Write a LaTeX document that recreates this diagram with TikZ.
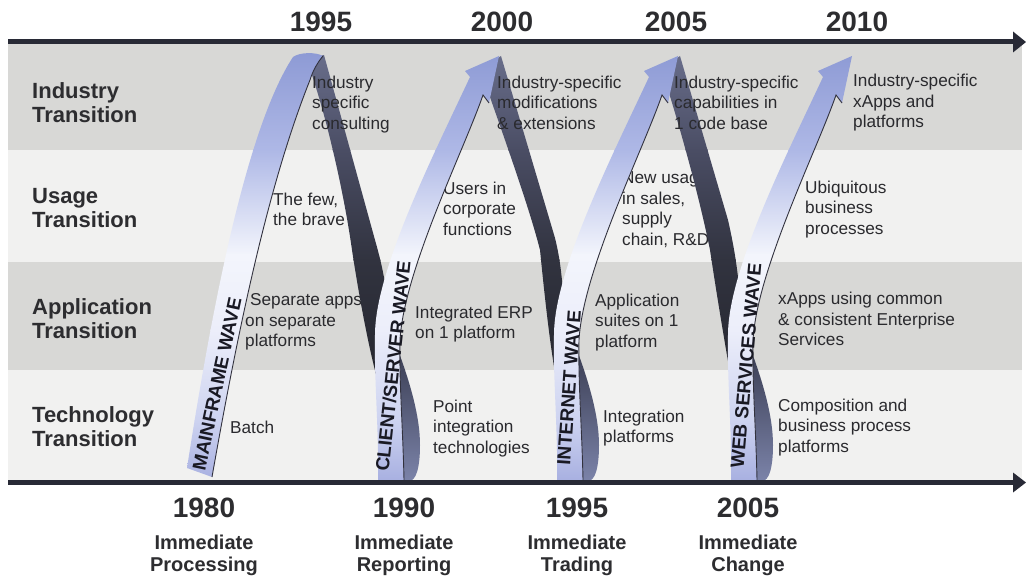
\documentclass[tikz,border=0pt]{standalone}
\usepackage{fontspec}
\setmainfont{Liberation Sans}
\definecolor{bandA}{RGB}{216,216,214}
\definecolor{bandB}{RGB}{241,241,240}
\definecolor{labcol}{RGB}{45,45,48}
\definecolor{desccol}{RGB}{42,42,46}
\definecolor{axiscol}{RGB}{40,42,54}
\definecolor{rA}{RGB}{140,153,212}
\definecolor{rB}{RGB}{174,184,230}
\definecolor{rC}{RGB}{243,245,252}
\definecolor{rD}{RGB}{236,238,250}
\definecolor{rE}{RGB}{205,211,240}
\definecolor{rF}{RGB}{166,174,224}
\definecolor{dA}{RGB}{106,111,140}
\definecolor{dB}{RGB}{74,77,100}
\definecolor{dC}{RGB}{49,51,63}
\definecolor{dD}{RGB}{36,37,45}
\definecolor{lobeA}{RGB}{58,61,82}
\definecolor{lobeB}{RGB}{123,131,169}
\definecolor{wavetxt}{RGB}{25,25,35}
\definecolor{edgecol}{RGB}{50,50,62}
\newcommand\lightshade[2]{%
 \shade[top color=rA, bottom color=rB] (#1,48) rectangle (#2,150.5);
 \shade[top color=rB, bottom color=rC] (#1,150) rectangle (#2,255.5);
 \shade[top color=rC, bottom color=rD] (#1,255) rectangle (#2,330.5);
 \shade[top color=rD, bottom color=rE] (#1,330) rectangle (#2,420.5);
 \shade[top color=rE, bottom color=rF] (#1,420) rectangle (#2,484);}
\newcommand\darkshade[2]{%
 \shade[top color=dA, bottom color=dB] (#1,50) rectangle (#2,150.5);
 \shade[top color=dB, bottom color=dC] (#1,150) rectangle (#2,260.5);
 \shade[top color=dC, bottom color=dD] (#1,260) rectangle (#2,395);}
\begin{document}
\begin{tikzpicture}[x=1pt,y=-1pt,
 rowlab/.style={font=\fontsize{22}{24}\selectfont\bfseries, text=labcol, align=left, anchor=north west, inner sep=0pt},
 yearlab/.style={font=\fontsize{28}{30}\selectfont\bfseries, text=labcol, inner sep=0pt},
 sublab/.style={font=\fontsize{20}{22}\selectfont\bfseries, text=labcol, align=center, anchor=north, inner sep=0pt},
 desc/.style={font=\fontsize{17.2}{20.5}\selectfont, text=desccol, align=left, anchor=north west, inner sep=0pt},
 lightrib/.style={insert path={(#1-26,480) .. controls (#1-25,430) and (#1-30,380) .. (#1-29,335) .. controls (#1-29,270) and (#1+31,152) .. (#1+66,77) -- (#1+61,71) -- (#1+95,56) -- (#1+85,103) -- (#1+79,95) .. controls (#1+60,150) and (#1+0,270) .. (#1-4,340) .. controls (#1-5,380) and (#1-1,430) .. (#1+0,480) -- cycle}},
 lobe/.style={insert path={(#1-6,350) .. controls (#1+5,380) and (#1+16,415) .. (#1+16,445) .. controls (#1+16,468) and (#1+12,481) .. (#1+5,481) -- (#1-3,481) -- cycle}},
 ribedge/.style={insert path={(#1+85,103) -- (#1+79,95) .. controls (#1+60,150) and (#1+0,270) .. (#1-4,340) .. controls (#1-5,380) and (#1-1,430) .. (#1+0,480)}},
 wavelab/.style={font=\fontsize{19}{19}\selectfont\bfseries, text=wavetxt, inner sep=0pt},
 edgeline/.style={draw=edgecol, line width=0.9pt},
]
\useasboundingbox (0,0) rectangle (1026,577);
\fill[white] (0,0) rectangle (1026,577);
% bands
\fill[bandA] (8,44) rectangle (1022,150);
\fill[bandB] (8,150) rectangle (1022,262);
\fill[bandA] (8,262) rectangle (1022,370);
\fill[bandB] (8,370) rectangle (1022,480);
% descriptions behind ribbons
\node[desc] (us1) at (273,192.5) {The few,\\the brave};
\node[desc] (us2) at (443,181.5) {Users in\\corporate\\functions};
\node[desc] (us3) at (622,171.5) {New usage\\in sales,\\supply\\chain, R\&D};
\node[desc] (us4) at (805,180.5) {Ubiquitous\\business\\processes};
\node[desc] (ap1) at (245,293.5) {\hspace*{5pt}Separate apps\\on separate\\platforms};
\node[desc] (ap2) at (415,305.5) {Integrated ERP\\on 1 platform};
\node[desc] (ap3) at (595,293.5) {Application\\suites on 1\\platform};
\node[desc] (ap4) at (778,292) {xApps using common\\\& consistent Enterprise\\Services};
\node[desc] (te1) at (230,420.5) {Batch};
\node[desc] (te2) at (433,399.5) {Point\\integration\\technologies};
\node[desc] (te3) at (603,409.5) {Integration\\platforms};
\node[desc] (te4) at (778,398.5) {Composition and\\business process\\platforms};
% dark descending ribbons
\begin{scope}
\clip (305,60) -- (324,55) -- (375,240) .. controls (385,275) and (389,300) .. (389,340) -- (389,392) -- (381,392) -- (377,378) .. controls (368,345) and (358,290) .. (352,250) .. controls (345,200) and (330,130) .. (312,75) -- cycle;
\darkshade{295}{400}
\end{scope}
\begin{scope}
\clip (492,62) -- (501,56) -- (555,238) .. controls (561,262) and (564,290) .. (564,330) -- (564,392) -- (559,392) -- (556,378) .. controls (550,345) and (545,300) .. (540,250) .. controls (530,210) and (505,140) .. (484,80) -- cycle;
\darkshade{475}{575}
\end{scope}
\begin{scope}
\clip (671,62) -- (680,56) -- (728,220) .. controls (736,255) and (740,285) .. (741,320) -- (741,392) -- (735,392) -- (731,378) .. controls (725,345) and (716,290) .. (710,250) .. controls (704,220) and (690,160) .. (665,80) -- cycle;
\darkshade{655}{750}
\end{scope}
% lobes (back of the twist)
\shade[lobe=404, top color=lobeA, bottom color=lobeB];
\shade[lobe=583, top color=lobeA, bottom color=lobeB];
\shade[lobe=757, top color=lobeA, bottom color=lobeB];
% wave 1 (mainframe)
\begin{scope}
\clip (187,468) .. controls (210,320) and (245,130) .. (293,57) .. controls (300,52) and (316,52) .. (323,56) .. controls (318,62) and (313,70) .. (310,80) .. controls (268,185) and (238,330) .. (212,477) -- cycle;
\lightshade{180}{330}
\end{scope}
\draw[edgeline] (323,56) .. controls (318,62) and (313,70) .. (310,80) .. controls (268,185) and (238,330) .. (212,477);
\node[wavelab, rotate=78] (w1) at (217,384) {MAINFRAME WAVE};
% waves 2-4
\begin{scope}
\clip[lightrib=404];
\lightshade{370}{505}
\end{scope}
\draw[edgeline, ribedge=404];
\node[wavelab, rotate=84] (w2) at (393,366) {CLIENT/SERVER WAVE};
\begin{scope}
\clip[lightrib=583];
\lightshade{550}{685}
\end{scope}
\draw[edgeline, ribedge=583];
\node[wavelab, rotate=86] (w3) at (569,388) {INTERNET WAVE};
\begin{scope}
\clip[lightrib=757];
\lightshade{725}{860}
\end{scope}
\draw[edgeline, ribedge=757];
\node[wavelab, rotate=85] (w4) at (746,366) {WEB SERVICES WAVE};
% industry row texts
\node[desc] (ind1) at (312,75.5) {Industry\\specific\\consulting};
\node[desc] (ind2) at (497,75.5) {Industry-specific\\modifications\\\& extensions};
\node[desc] (ind3) at (674,75.5) {Industry-specific\\capabilities in\\1 code base};
\node[desc] (ind4) at (853,74) {Industry-specific\\xApps and\\platforms};
% axes
\coordinate (tl) at (8,42);
\coordinate (tr) at (1016,42);
\coordinate (bl) at (8,482.5);
\coordinate (br) at (1016,482.5);
\draw[axiscol, line width=5pt] (tl) -- (tr);
\fill[axiscol] (1013,31.5) -- (1026,42) -- (1013,52.5) -- cycle;
\draw[axiscol, line width=5pt] (bl) -- (br);
\fill[axiscol] (1013,472.5) -- (1026,482.5) -- (1013,492.5) -- cycle;
% row labels
\node[rowlab] (r1) at (32,82) {Industry\\Transition};
\node[rowlab] (r2) at (32,188) {Usage\\Transition};
\node[rowlab] (r3) at (32,298) {Application\\Transition};
\node[rowlab] (r4) at (32,406) {Technology\\Transition};
% years
\node[yearlab] (t1995) at (321,22) {1995};
\node[yearlab] (t2000) at (502,22) {2000};
\node[yearlab] (t2005) at (676,22) {2005};
\node[yearlab] (t2010) at (857,22) {2010};
\node[yearlab] (b1980) at (204,508) {1980};
\node[yearlab] (b1990) at (404,508) {1990};
\node[yearlab] (b1995) at (577,508) {1995};
\node[yearlab] (b2005) at (748,508) {2005};
\node[sublab] (s1) at (204,535) {Immediate\\Processing};
\node[sublab] (s2) at (404,535) {Immediate\\Reporting};
\node[sublab] (s3) at (577,535) {Immediate\\Trading};
\node[sublab] (s4) at (748,535) {Immediate\\Change};
\end{tikzpicture}
\end{document}
